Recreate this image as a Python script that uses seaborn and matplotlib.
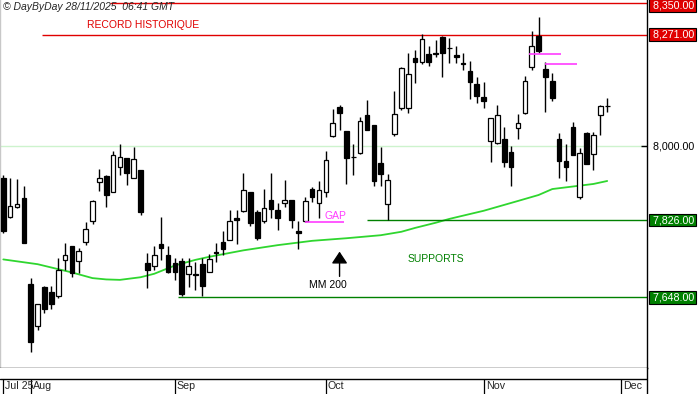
import numpy as np
import pandas as pd
import matplotlib
matplotlib.use("Agg")
import matplotlib.pyplot as plt
import matplotlib.transforms as mtransforms
from matplotlib.ticker import NullLocator, FixedLocator
import seaborn as sns

# daily candles, one per session (28 Jul -> 27 Nov 2025)
opens = [7924, 7834, 7856, 7877, 7679, 7582, 7672, 7661, 7652, 7733,
         7766, 7731, 7775, 7824, 7916, 7930, 7893, 7950, 7972, 7924,
         7944, 7727, 7720, 7770, 7745, 7727, 7732, 7701, 7702, 7724,
         7707, 7752, 7776, 7780, 7831, 7848, 7892, 7845, 7823, 7873,
         7850, 7867, 7873, 7800, 7823, 7899, 7866, 7893, 8026, 8095,
         8037, 7976, 7984, 8075, 8051, 7960, 7863, 8029, 8093, 8091,
         8214, 8205, 8224, 8225, 8266, 8239, 8221, 8202, 8182, 8150,
         8118, 8014, 8008, 8017, 7987, 8043, 8080, 8191, 8268, 8187,
         8158, 8018, 7965, 8047, 7881, 8033, 7982, 8075, 8098]
highs = [7932, 7924, 7923, 7906, 7693, 7634, 7673, 7674, 7739, 7773,
         7767, 7762, 7822, 7873, 7946, 7931, 7988, 8005, 7972, 7999,
         7945, 7750, 7765, 7833, 7765, 7739, 7739, 7739, 7729, 7738,
         7748, 7773, 7800, 7850, 7850, 7936, 7892, 7850, 7899, 7936,
         7866, 7921, 7874, 7823, 7881, 7903, 7917, 7988, 8089, 8100,
         8037, 8006, 8071, 8112, 8052, 7999, 7935, 8133, 8192, 8225,
         8233, 8273, 8242, 8258, 8267, 8262, 8243, 8225, 8206, 8168,
         8154, 8068, 8100, 8047, 8001, 8077, 8170, 8281, 8315, 8205,
         8178, 8031, 8006, 8058, 7997, 8035, 8035, 8100, 8116]
lows = [7796, 7832, 7855, 7772, 7525, 7573, 7612, 7621, 7647, 7711,
        7694, 7704, 7769, 7818, 7895, 7856, 7892, 7931, 7909, 7924,
        7838, 7669, 7711, 7734, 7704, 7688, 7650, 7672, 7665, 7650,
        7707, 7730, 7746, 7779, 7771, 7845, 7813, 7779, 7819, 7831,
        7802, 7858, 7807, 7760, 7821, 7869, 7831, 7880, 8022, 8039,
        7910, 7932, 7983, 8039, 7905, 7905, 7827, 8026, 8087, 8080,
        8152, 8198, 8193, 8215, 8168, 8202, 8201, 8184, 8114, 8105,
        8093, 7964, 8005, 7951, 7907, 8017, 8077, 8184, 8227, 8083,
        8110, 7925, 7918, 7980, 7875, 7958, 7943, 8027, 8083]
closes = [7800, 7859, 7864, 7773, 7546, 7633, 7621, 7634, 7711, 7745,
          7704, 7754, 7805, 7871, 7924, 7884, 7979, 7974, 7938, 7969,
          7844, 7710, 7745, 7762, 7707, 7707, 7656, 7719, 7698, 7675,
          7736, 7749, 7760, 7824, 7827, 7896, 7819, 7785, 7854, 7852,
          7831, 7873, 7827, 7796, 7872, 7881, 7897, 7968, 8055, 8081,
          7972, 7974, 8061, 8039, 7917, 7934, 7921, 8077, 8189, 8175,
          8205, 8260, 8205, 8224, 8225, 8238, 8215, 8198, 8156, 8120,
          8110, 8068, 8075, 7964, 7951, 8055, 8158, 8242, 8232, 8168,
          8117, 7966, 7952, 7980, 7984, 7958, 8027, 8097, 8098]

# 200-day moving average (MM 200)
ma_idx = [0, 5, 10, 13, 15, 17, 20, 22, 25, 28, 30, 35, 40, 45, 50, 55,
          58, 60, 63, 65, 70, 75, 78, 80, 83, 86, 88]
ma_val = [7735, 7724, 7705, 7692, 7689, 7688, 7694, 7702, 7721, 7734,
          7741, 7756, 7768, 7778, 7784, 7791, 7799, 7808, 7820, 7829,
          7848, 7871, 7885, 7899, 7905, 7911, 7918]

# first session of each month
month_idx = [0, 4, 25, 47, 70, 90]
month_lbl = ["Jul 25", "Aug", "Sep", "Oct", "Nov", "Dec"]

# horizontal levels and the session they start from
record_levels = [8350, 8271]
record_from = [15.6, 5.6]
support_levels = [7826, 7648]
support_from = [53, 25.5]

# open gaps
gap_level = [7822, 8223, 8200]
gap_start = [44, 76.6, 79]
gap_end = [49.7, 81.3, 83.6]

# price tags on the right axis
label_prices = [8350, 8271, 8000, 7826, 7648]
label_bg = ["#e00000", "#e00000", None, "#008000", "#008000"]

sns.set_theme(style="white")
plt.rcParams["font.family"] = ["Liberation Sans", "DejaVu Sans"]

df = pd.DataFrame({"o": opens, "h": highs, "l": lows, "c": closes})
df["i"] = np.arange(len(df))
df["up"] = df["c"] >= df["o"]

XMIN, XMAX = -0.48, 93.8
fig = plt.figure(figsize=(7, 3.94), dpi=100)
ax = fig.add_axes([0, 26 / 394, 647 / 700, 368 / 394])

# grid line at 8000 and the 200-day average
ax.axhline(8000, color="#cdf3cd", lw=1, zorder=0)
sns.lineplot(x=ma_idx, y=ma_val, ax=ax, color="#2fd62f", lw=1.3, zorder=1)

# candles
ax.vlines(df["i"], df["l"], df["h"], color="black", lw=1, zorder=2)
body_lo = df[["o", "c"]].min(axis=1)
body_h = (df["c"] - df["o"]).abs()
ax.bar(df["i"], body_h, bottom=body_lo, width=0.68,
       color=np.where(df["up"], "white", "black"),
       edgecolor="black", linewidth=0.9, zorder=3)

# levels
for lvl, x0 in zip(record_levels, record_from):
    ax.hlines(lvl, x0, XMAX, colors="#e00000", lw=1, zorder=1)
for lvl, x0 in zip(support_levels, support_from):
    ax.hlines(lvl, x0, XMAX, colors="#008000", lw=1, zorder=1)
ax.hlines(gap_level, gap_start, gap_end, colors="#ff3cff", lw=1.2, zorder=4)

# annotations
ax.text(20.4, 8296, "RECORD HISTORIQUE", color="#e00000", fontsize=7.5,
        ha="center", va="center")
ax.text(48.4, 7836, "GAP", color="#ff3cff", fontsize=7.5, ha="center", va="center")
ax.text(63.0, 7736, "SUPPORTS", color="#008000", fontsize=7.5, ha="center", va="center")
ax.text(47.3, 7676, "MM 200", color="black", fontsize=7.5, ha="center", va="center")
ax.annotate("", xy=(49.0, 7753), xytext=(49.0, 7696),
            arrowprops=dict(arrowstyle="-|>,head_length=0.6,head_width=0.4",
                            color="black", lw=1, shrinkA=0, shrinkB=0))

ax.set_yscale("log")
ax.set_xlim(XMIN, XMAX)
ax.set_ylim(7488.6, 8357)
ax.yaxis.set_minor_locator(NullLocator())
ax.yaxis.set_major_locator(FixedLocator([8000]))
ax.yaxis.tick_right()
ax.tick_params(axis="y", direction="in", length=4, width=1, color="black",
               labelright=False, labelleft=False, right=True, left=False)
ax.set_xticks([])
ax.set_xlabel("")
ax.set_ylabel("")
ax.spines["top"].set_visible(False)
ax.spines["left"].set_color("#c8c8c8")
ax.spines["right"].set_color("black")
ax.spines["bottom"].set_color("black")
for s in ax.spines.values():
    s.set_linewidth(1)

# price labels on the right (top one nudged down so it stays on the canvas)
trans = mtransforms.blended_transform_factory(ax.transAxes, ax.transData)
for p, bg in zip(label_prices, label_bg):
    txt = " " + f"{p:,.2f}"
    ypos = min(p, 8343)
    if bg is None:
        ax.text(1.005, ypos, txt, transform=trans, fontsize=7.7, color="black",
                ha="left", va="center", clip_on=False)
    else:
        ax.text(1.005, ypos, txt, transform=trans, fontsize=7.7, color="white",
                ha="left", va="center", clip_on=False,
                bbox=dict(boxstyle="square,pad=0.12", fc=bg, ec="black", lw=0.8))

# date band
ax2 = fig.add_axes([0, 0, 647 / 700, 26 / 394])
ax2.set_xlim(XMIN, XMAX)
ax2.set_ylim(0, 1)
ax2.axhline(15 / 26, color="black", lw=1)
ax2.vlines(month_idx, 0, 15 / 26, color="black", lw=0.9)
for xi, lbl in zip(month_idx, month_lbl):
    ax2.text(xi + 0.3, 0.29, lbl, fontsize=7.7, ha="left", va="center")
ax2.set_xticks([])
ax2.set_yticks([])
for side in ["top", "left", "bottom"]:
    ax2.spines[side].set_visible(False)
ax2.spines["right"].set_color("black")
ax2.spines["right"].set_linewidth(1)

fig.text(3 / 700, 1 - 7.3 / 394, "\u00a9 DayByDay 28/11/2025  06:41 GMT",
         fontsize=7.5, style="italic", ha="left", va="center")

fig.savefig("out.png", dpi=100)
